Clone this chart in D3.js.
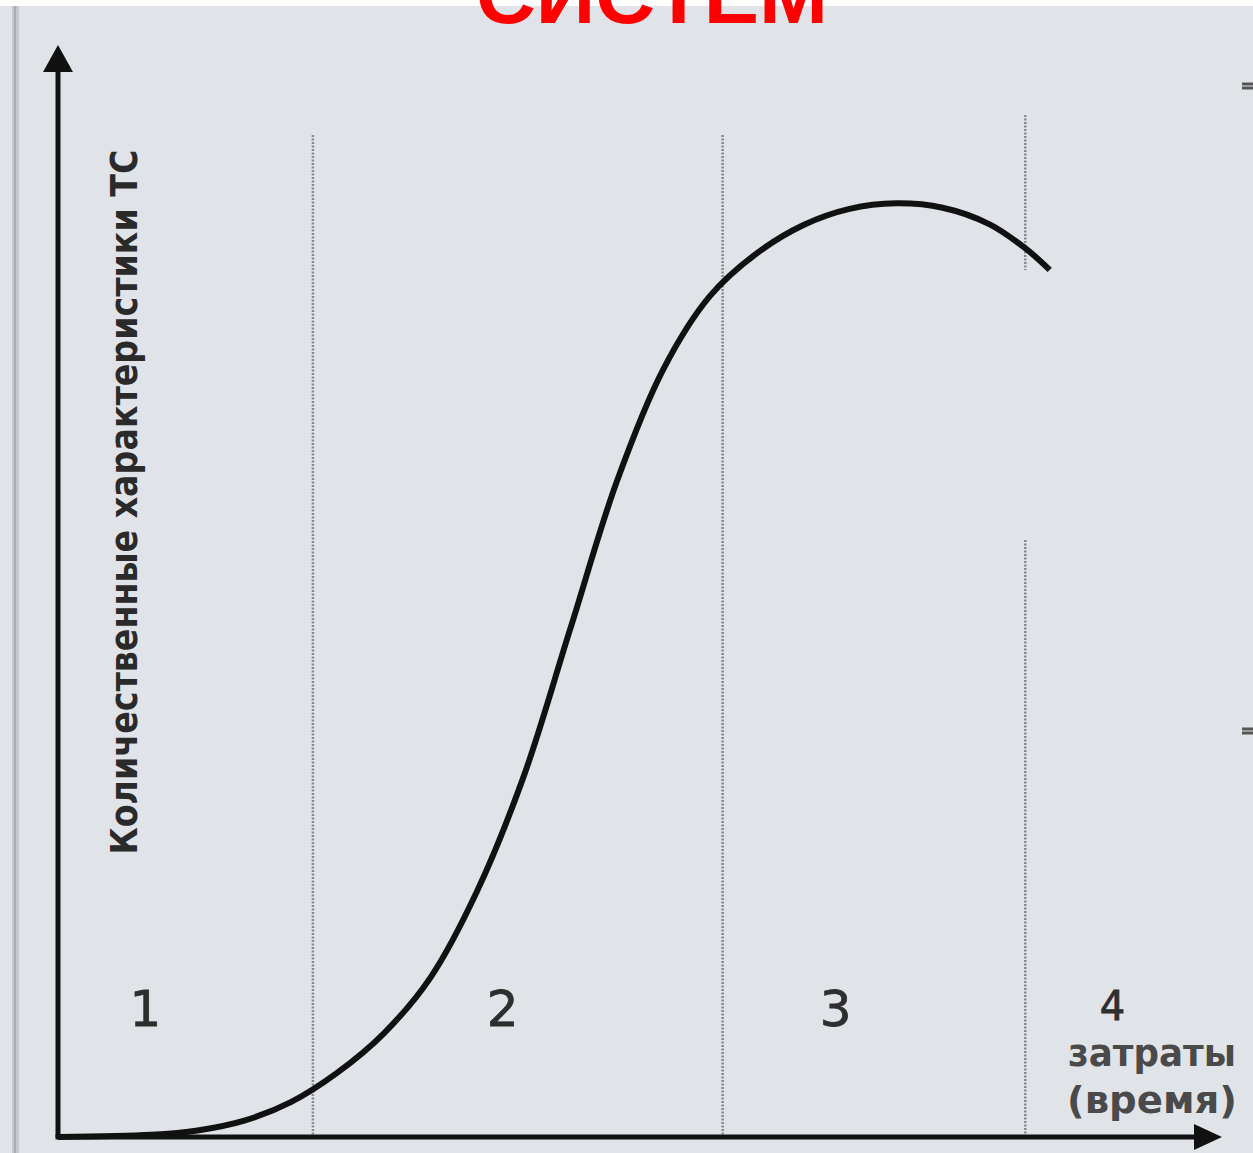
<!DOCTYPE html>
<html>
<head>
<meta charset="utf-8">
<script src="https://cdn.jsdelivr.net/npm/d3@7"></script>
<style>
  html, body { margin: 0; padding: 0; background: #ffffff; }
  svg { display: block; }
</style>
</head>
<body>
<div id="chart"></div>
<script>
// S-curve of a technical system, values in relative units (0..100)
const curveX = [0, 8, 12, 16, 20, 24, 28, 32, 36, 40, 44, 48, 52, 56, 60, 64, 68, 72, 76, 80, 83.2, 85.2];
const curveY = [0, 0.2, 0.6, 1.5, 3.2, 5.9, 9.5, 14.6, 22.5, 33.0, 46.5, 60.0, 70.3, 77.0, 80.9, 83.5, 85.0, 85.5, 85.1, 83.6, 81.3, 79.4];

// stage boundaries and stage names
const stageBounds = [21.9, 57.1, 83.1];
const stageLabels = ["1", "2", "3", "4"];
const stageLabelX = [7.5, 38.2, 66.8, 90.6];

const title = "СИСТЕМ";
const yLabel = "Количественные характеристики ТС";
const xLabel = ["затраты", "(время)"];

const width = 1253;
const height = 1153;

const svg = d3.select("#chart")
    .append("svg")
    .attr("width", width)
    .attr("height", height);

// slide background
svg.append("rect")
    .attr("width", width).attr("height", height)
    .attr("fill", "#ffffff");
svg.append("rect")
    .attr("x", 0).attr("y", 6)
    .attr("width", width).attr("height", height - 6)
    .attr("fill", "#e0e4e8");
svg.append("rect")
    .attr("x", 12).attr("y", 6)
    .attr("width", 7).attr("height", height - 6)
    .attr("fill", "#c4c8cc");
svg.append("rect")
    .attr("x", 14).attr("y", 6)
    .attr("width", 2).attr("height", height - 6)
    .attr("fill", "#a9adb1");

const xScale = d3.scaleLinear().domain([0, 100]).range([58, 1222]);
const yScale = d3.scaleLinear().domain([0, 100]).range([1137, 45]);

// stage dividers (dotted)
const dividerTop = [135, 135, 115];
stageBounds.forEach((b, i) => {
    const segs = i === 2 ? [[dividerTop[i], 270], [540, 1137]] : [[dividerTop[i], 1137]];
    segs.forEach(s => {
        svg.append("line")
            .attr("x1", xScale(b)).attr("x2", xScale(b))
            .attr("y1", s[0]).attr("y2", s[1])
            .attr("stroke", "#85898d")
            .attr("stroke-width", 2.5)
            .attr("stroke-dasharray", "2 1.5");
    });
});

// curve
const line = d3.line()
    .x((d, i) => xScale(curveX[i]))
    .y((d, i) => yScale(curveY[i]))
    .curve(d3.curveCatmullRom.alpha(0.5));

svg.append("path")
    .datum(curveX)
    .attr("d", line)
    .attr("fill", "none")
    .attr("stroke", "#111111")
    .attr("stroke-width", 6);

// axes with arrows
const axisColor = "#111111";
svg.append("path")
    .attr("d", `M${xScale(0)},${yScale(0)}V${yScale(100) + 24}`)
    .attr("stroke", axisColor).attr("stroke-width", 5).attr("fill", "none");
svg.append("path")
    .attr("d", `M${xScale(0) - 2.5},${yScale(0)}H${xScale(100) - 26}`)
    .attr("stroke", axisColor).attr("stroke-width", 5).attr("fill", "none");
svg.append("path")
    .attr("d", `M${xScale(0)},${yScale(100)}L${xScale(0) - 15},${yScale(100) + 27}L${xScale(0) + 15},${yScale(100) + 27}Z`)
    .attr("fill", axisColor);
svg.append("path")
    .attr("d", `M${xScale(100)},${yScale(0)}L${xScale(100) - 28},${yScale(0) - 13}L${xScale(100) - 28},${yScale(0) + 13}Z`)
    .attr("fill", axisColor);

// stage numbers
svg.selectAll(".stage")
    .data(stageLabels)
    .enter().append("text")
    .attr("class", "stage")
    .attr("x", (d, i) => xScale(stageLabelX[i]))
    .attr("y", (d, i) => i === 3 ? 1020 : 1026)
    .attr("text-anchor", "middle")
    .style("font-family", "DejaVu Sans, sans-serif")
    .attr("font-size", (d, i) => i === 3 ? 40 : 50)
    .attr("fill", "#2e2e2e")
    .attr("stroke", "#2e2e2e")
    .attr("stroke-width", 0.8)
    .text(d => d);

// x label
svg.selectAll(".xlab")
    .data(xLabel)
    .enter().append("text")
    .attr("class", "xlab")
    .attr("x", 1152)
    .attr("y", (d, i) => 1066 + i * 47)
    .attr("text-anchor", "middle")
    .style("font-family", "DejaVu Sans, sans-serif")
    .style("font-size", "38px")
    .style("font-weight", "bold")
    .attr("fill", "#4a4a4a")
    .attr("textLength", (d, i) => i === 0 ? 168 : 170)
    .attr("lengthAdjust", "spacingAndGlyphs")
    .text(d => d);

// y label
svg.append("text")
    .attr("transform", "translate(137,502) rotate(-90)")
    .attr("text-anchor", "middle")
    .style("font-family", "DejaVu Sans, sans-serif")
    .style("font-size", "38px")
    .style("font-weight", "bold")
    .attr("fill", "#2a2a2a")
    .attr("textLength", 705)
    .attr("lengthAdjust", "spacingAndGlyphs")
    .text(yLabel);

// title (cut off at the top of the slide, as in the source)
svg.append("text")
    .attr("x", 652)
    .attr("y", 23)
    .attr("text-anchor", "middle")
    .style("font-family", "Liberation Sans, Arial, sans-serif")
    .style("font-size", "80px")
    .style("font-weight", "bold")
    .attr("fill", "#ff0000")
    .attr("textLength", 352)
    .attr("lengthAdjust", "spacingAndGlyphs")
    .text(title);

// small marks at the right edge of the slide
[[84, 88], [729, 733]].forEach(m => {
    m.forEach(y => {
        svg.append("rect")
            .attr("x", 1242).attr("y", y - 1.5)
            .attr("width", 11).attr("height", 3)
            .attr("fill", "#555555");
    });
});
</script>
</body>
</html>
